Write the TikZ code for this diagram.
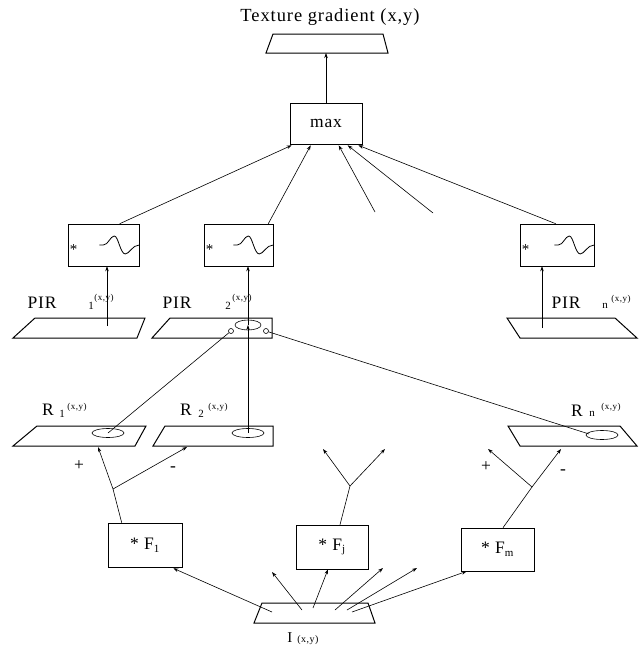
\documentclass[tikz,border=0pt]{standalone}
\usepackage{fontspec}
\setmainfont{Liberation Serif}[LetterSpace=5]
\usetikzlibrary{arrows.meta,calc}
\begin{document}
\begin{tikzpicture}[x=1pt,y=-1pt,
  conn/.style={line width=0.6pt,-{Stealth[length=5pt,width=3.5pt]}},
  thin line/.style={line width=0.6pt},
  plane/.style={line width=1pt,line join=miter},
  fbox/.style={draw,line width=0.6pt,inner sep=0pt,minimum width=#1},
  big/.style={font=\fontsize{17.5}{19}\selectfont,inner sep=0pt},
  subtxt/.style={font=\fontsize{11}{12}\selectfont,inner sep=0pt},
  suptxt/.style={font=\fontsize{9}{10}\selectfont,inner sep=0pt},
  startxt/.style={font=\fontsize{15}{16}\selectfont,inner sep=0pt},
  wave/.pic={\draw[line width=0.8pt] (0,0) -- (4,0) .. controls (9,0) and (11,-9) .. (15,-9)
     .. controls (19,-9) and (21,9) .. (26,9) .. controls (30,9) and (33,0) .. (40,0);}
]
\useasboundingbox (0,0) rectangle (638,648);

% top
\node[font=\fontsize{18.5}{20}\selectfont,inner sep=0pt] (title) at (330,17) {Texture gradient (x,y)};
\draw[plane] (273,34) -- (383,34) -- (388,53) -- (266,53) -- cycle;
\coordinate (tg) at (326,53);
\node[fbox=72pt,minimum height=41pt,big] (max) at (326,123.5) {max};
\draw[conn] (max.north) -- (tg);

% filter boxes
\node[fbox=71pt,minimum height=42pt] (B1) at (103.5,245) {};
\node[fbox=69pt,minimum height=42pt] (B2) at (238.5,245) {};
\node[fbox=74pt,minimum height=42pt] (Bn) at (557,245) {};
\foreach \b in {B1,B2,Bn}{
  \node[startxt] (star\b) at ($(\b.west)+(6,5)$) {*};
  \pic at ($(\b.east)+(-40,0)$) {wave};
}

% arrows to max
\coordinate (fa) at (375,212);
\coordinate (fb) at (433,213);
\draw[conn] ($(B1.north west)+(52,0)$) -- ($(max.south west)+(2,1)$);
\draw[conn] ($(B2.north east)+(-5,0)$) -- ($(max.south west)+(21,1)$);
\draw[conn] (fa) -- ($(max.south west)+(49,1)$);
\draw[conn] (fb) -- ($(max.south west)+(58,1)$);
\draw[conn] ($(Bn.north west)+(36,0)$) -- ($(max.south east)+(-4,1)$);

% PIR planes
\draw[plane] (35,318) -- (145,318) -- (137,338) -- (13,338) -- cycle;
\draw[plane] (170,318) -- (272,318) -- (272,338) -- (152,338) -- cycle;
\draw[plane] (507,318) -- (615,318) -- (637,338) -- (520,338) -- cycle;
\coordinate (p1) at (107,326);
\coordinate (pn) at (542,328);
\coordinate (p2c) at (248,325);
\draw[thin line] (p2c) ellipse [x radius=13pt, y radius=5pt];
\node[draw,circle,line width=0.6pt,minimum size=5pt,inner sep=0pt] (c2l) at (231,331) {};
\node[draw,circle,line width=0.6pt,minimum size=5pt,inner sep=0pt] (c2r) at (266,331) {};

% PIR labels
\node[big] (pir1) at (42,303) {PIR};
\node[subtxt] (pir1s) at (91,306) {1};
\node[suptxt] (pir1x) at (104,298) {(x,y)};
\node[big] (pir2) at (177,303) {PIR};
\node[subtxt] (pir2s) at (228,306) {2};
\node[suptxt] (pir2x) at (242,298) {(x,y)};
\node[big] (pirn) at (566,303) {PIR};
\node[subtxt] (pirns) at (605,306) {n};
\node[suptxt] (pirnx) at (621,299) {(x,y)};

\draw[conn] (p1) -- (p1 |- B1.south);
\draw[conn] (pn) -- (pn |- Bn.south);

% R planes
\draw[plane] (37,426) -- (146,426) -- (135,446) -- (13,446) -- cycle;
\draw[plane] (165,426) -- (273,426) -- (273,446) -- (153,446) -- cycle;
\draw[plane] (508,426) -- (620,426) -- (637,446) -- (520,446) -- cycle;
\coordinate (r1c) at (108,433);
\coordinate (r2c) at (248,433);
\coordinate (rnc) at (602,435);
\coordinate (rnl) at (589,434);
\draw[thin line] (r1c) ellipse [x radius=16pt, y radius=4.5pt];
\draw[thin line] (r2c) ellipse [x radius=16pt, y radius=4.5pt];
\draw[thin line] (rnc) ellipse [x radius=16pt, y radius=4.5pt];

\node[big] (r1l) at (48,410) {R};
\node[subtxt] (r1ls) at (62,414) {1};
\node[suptxt] (r1lx) at (77,407) {(x,y)};
\node[big] (r2l) at (186,410) {R};
\node[subtxt] (r2ls) at (201,414) {2};
\node[suptxt] (r2lx) at (218,407) {(x,y)};
\node[big] (rnl2) at (577,411) {R};
\node[subtxt] (rnls) at (592,414) {n};
\node[suptxt] (rnlx) at (611,407) {(x,y)};

% links between R and PIR
\draw[conn] (r2c) -- (p2c);
\draw[conn] (p2c) -- (p2c |- B2.south);
\draw[thin line] (c2l) -- (r1c);
\draw[thin line] (c2r) -- (rnl);

% signs
\node[big] (plus1) at (79,466) {+};
\node[big] (minus1) at (173,469) {-};
\node[big] (plus2) at (486,467) {+};
\node[big] (minus2) at (563,472) {-};

% F boxes
\node[fbox=74pt,minimum height=44pt,big] (F1) at (145,545) {* F\textsubscript{\fontsize{11}{12}\selectfont 1}};
\node[fbox=72pt,minimum height=44pt,big] (Fj) at (332,547) {* F\textsubscript{\fontsize{11}{12}\selectfont j}};
\node[fbox=73pt,minimum height=43pt,big] (Fm) at (497.5,549.5) {* F\textsubscript{\fontsize{11}{12}\selectfont m}};

% branches
\coordinate (j1) at (113,489);
\coordinate (jj) at (350,486);
\coordinate (jm) at (532,487);
\coordinate (t1a) at (98,447);
\coordinate (t1b) at (187,447);
\coordinate (tja) at (323,449);
\coordinate (tjb) at (385,449);
\coordinate (tma) at (488,449);
\coordinate (tmb) at (561,449);
\draw[thin line] ($(F1.north west)+(14,0)$) -- (j1);
\draw[conn] (j1) -- (t1a);
\draw[conn] (j1) -- (t1b);
\draw[thin line] ($(Fj.north)+(8,0)$) -- (jj);
\draw[conn] (jj) -- (tja);
\draw[conn] (jj) -- (tjb);
\draw[thin line] ($(Fm.north)+(5.5,0)$) -- (jm);
\draw[conn] (jm) -- (tma);
\draw[conn] (jm) -- (tmb);

% input image
\draw[plane] (262,603) -- (368,603) -- (375,623) -- (254,623) -- cycle;
\coordinate (i1) at (272,612);
\coordinate (i2) at (302,610);
\coordinate (i3) at (313,608);
\coordinate (i4) at (335,610);
\coordinate (i5) at (347,610);
\coordinate (i6) at (352,612);
\coordinate (fr1) at (272,572);
\coordinate (fr2) at (383,568);
\coordinate (fr3) at (417,568);
\draw[conn] (i1) -- ($(F1.south east)+(-9,1)$);
\draw[conn] (i2) -- (fr1);
\draw[conn] (i3) -- ($(Fj.south)+(-4,0)$);
\draw[conn] (i4) -- (fr2);
\draw[conn] (i5) -- (fr3);
\draw[conn] (i6) -- ($(Fm.south west)+(6,0)$);
\node[font=\fontsize{15}{16}\selectfont,inner sep=0pt] (ilab) at (303,639) {I\,\,{\fontsize{10}{11}\selectfont(x,y)}};
\end{tikzpicture}
\end{document}
